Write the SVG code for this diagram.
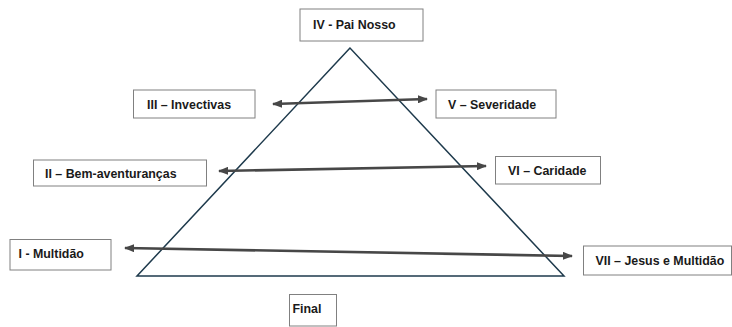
<svg xmlns="http://www.w3.org/2000/svg" width="732" height="327" viewBox="0 0 732 327">
<style>
.box{fill:#ffffff;stroke:#808080;stroke-width:1}
.lbl{font-family:"Liberation Sans",Arial,sans-serif;font-weight:bold;font-size:12.4px;fill:#1a1a1a}
.arr{stroke:#474747;stroke-width:2.6;fill:none;marker-start:url(#ah);marker-end:url(#ah)}
.tri{fill:none;stroke:#1e3a4c;stroke-width:1.5}
</style>
<defs>
<marker id="ah" viewBox="0 0 10 8" refX="9" refY="4" markerWidth="4" markerHeight="3.2" orient="auto-start-reverse" markerUnits="strokeWidth">
<path d="M0,0 L10,4 L0,8 z" fill="#474747"/>
</marker>
</defs>
<rect width="732" height="327" fill="#ffffff"/>
<g id="pyramid">
<polygon class="tri" points="350,48 137,276 564,276"/>
</g>
<g id="connectors">
<line class="arr" x1="273" y1="104" x2="427" y2="99"/>
<line class="arr" x1="219" y1="171" x2="486" y2="166"/>
<line class="arr" x1="125" y1="248" x2="572" y2="256"/>
</g>
<g id="n4"><rect class="box" x="300" y="9" width="123" height="32"/><text class="lbl" x="313" y="28.5">IV - Pai Nosso</text></g>
<g id="n3"><rect class="box" x="133.5" y="90" width="121.5" height="28"/><text class="lbl" x="147" y="108.5">III – Invectivas</text></g>
<g id="n5"><rect class="box" x="436" y="90" width="120" height="28"/><text class="lbl" x="448" y="108.5">V – Severidade</text></g>
<g id="n2"><rect class="box" x="33.5" y="160" width="173" height="26"/><text class="lbl" x="45" y="177.5">II – Bem-aventuranças</text></g>
<g id="n6"><rect class="box" x="495.5" y="156.5" width="105" height="27.5"/><text class="lbl" x="508" y="175">VI – Caridade</text></g>
<g id="n1"><rect class="box" x="10" y="239.5" width="101" height="30.5"/><text class="lbl" x="18.5" y="258">I - Multidão</text></g>
<g id="n7"><rect class="box" x="583.5" y="246" width="148" height="29"/><text class="lbl" x="595.5" y="264.5">VII – Jesus e Multidão</text></g>
<g id="n8"><rect class="box" x="289.5" y="294.5" width="47" height="31.5"/><text class="lbl" x="292.5" y="313">Final</text></g>
</svg>
